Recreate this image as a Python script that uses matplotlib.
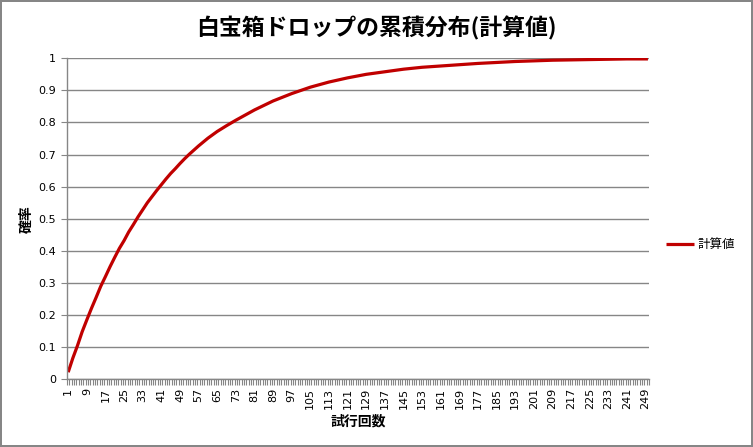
import matplotlib.pyplot as plt
import numpy as np

plt.rcParams['font.family'] = ['Noto Sans CJK JP', 'DejaVu Sans']

# values
trials = [1, 3, 5, 7, 9, 11, 13, 15, 17, 19, 21, 23, 25, 27, 29, 31, 33, 35,
          37, 39, 41, 43, 45, 47, 49, 51, 53, 55, 57, 61, 65, 69, 73, 77, 81,
          89, 97, 105, 113, 121, 129, 137, 145, 153, 161, 169, 177, 185, 193,
          201, 209, 217, 225, 233, 241, 249, 250]
prob = [0.022, 0.066, 0.105, 0.148, 0.185, 0.221, 0.255, 0.29, 0.32, 0.351,
        0.38, 0.408, 0.432, 0.459, 0.482, 0.506, 0.528, 0.55, 0.569, 0.588,
        0.606, 0.624, 0.641, 0.656, 0.672, 0.687, 0.701, 0.714, 0.727, 0.751,
        0.772, 0.79, 0.807, 0.823, 0.839, 0.867, 0.890, 0.910, 0.926, 0.939,
        0.950, 0.958, 0.966, 0.972, 0.976, 0.980, 0.984, 0.987, 0.990, 0.992,
        0.994, 0.995, 0.996, 0.997, 0.998, 0.998, 0.998]
n_categories = 250
label_ticks = list(range(1, 250, 8))
y_ticks = [0, 0.1, 0.2, 0.3, 0.4, 0.5, 0.6, 0.7, 0.8, 0.9, 1]
y_labels = ['0', '0.1', '0.2', '0.3', '0.4', '0.5', '0.6', '0.7', '0.8', '0.9', '1']

grey = '#868686'
red = '#C00000'

fig = plt.figure(figsize=(7.53, 4.47), dpi=100)
fig.patch.set_edgecolor(grey)
fig.patch.set_linewidth(1.5)
ax = fig.add_axes([0.089, 0.1515, 0.773, 0.7181])

ax.plot(trials, prob, color=red, lw=2.3, label='計算値', solid_capstyle='butt')

ax.set_xlim(0.5, n_categories + 0.5)
ax.set_ylim(0, 1)

for s in ['top', 'right']:
    ax.spines[s].set_visible(False)
for s in ['left', 'bottom']:
    ax.spines[s].set_color(grey)
    ax.spines[s].set_linewidth(1)

# category boundary ticks
ax.set_xticks(np.arange(0.5, n_categories + 1, 1.0))
ax.tick_params(axis='x', which='major', length=4, color=grey, labelbottom=False)
ax.set_xticks(label_ticks, minor=True)
ax.set_xticklabels([str(t) for t in label_ticks], minor=True, rotation=90,
                   fontsize=8, family='DejaVu Sans')
ax.tick_params(axis='x', which='minor', length=0, pad=6)

ax.set_yticks(y_ticks)
ax.set_yticklabels(y_labels, fontsize=8, family='DejaVu Sans')
ax.tick_params(axis='y', length=4, color=grey, pad=4)
ax.yaxis.grid(True, color=grey, lw=1)
ax.set_axisbelow(True)

ax.set_xlabel('試行回数', fontsize=10, fontweight='bold', labelpad=4)
ax.set_ylabel('確率', fontsize=10, fontweight='bold', labelpad=3)
fig.suptitle('白宝箱ドロップの累積分布(計算値)', fontsize=16.5, fontweight='bold', y=0.965)

ax.legend(loc='center left', bbox_to_anchor=(1.01, 0.42), frameon=False,
          fontsize=9, handlelength=2.2, handletextpad=0.3)

fig.savefig('out.png', dpi=100, edgecolor=grey)
